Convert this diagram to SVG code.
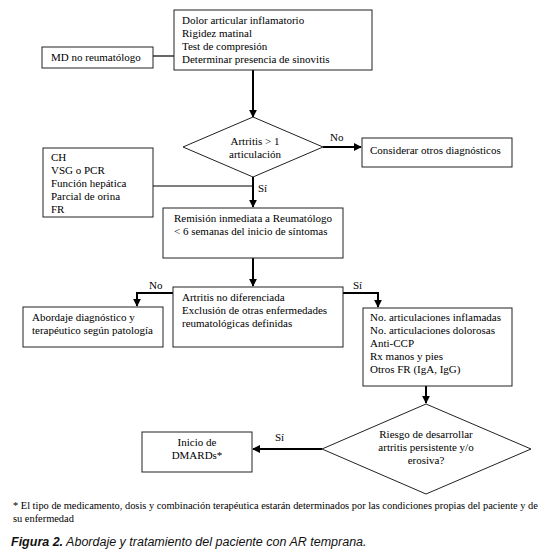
<svg xmlns="http://www.w3.org/2000/svg" width="558" height="556" viewBox="0 0 558 556">
<defs>
<marker id="ah" viewBox="0 0 10 10" refX="9" refY="5" markerWidth="4" markerHeight="4" orient="auto" markerUnits="strokeWidth">
<path d="M0,0 L10,5 L0,10 z" fill="#000"/>
</marker>
<style>
.box{fill:#fff;stroke:#222;stroke-width:1}
.t{font-family:"Liberation Serif","Times New Roman",serif;font-size:11px;fill:#000}
.c{text-anchor:middle}
.ln{fill:none;stroke:#000;stroke-width:1.2}
.ar{fill:none;stroke:#000;stroke-width:2;marker-end:url(#ah)}
.fn{font-family:"Liberation Serif","Times New Roman",serif;font-size:10.4px;fill:#000}
.cap{font-family:"Liberation Sans",Arial,sans-serif;font-size:12.5px;font-style:italic;fill:#111}
</style>
</defs>
<rect width="558" height="556" fill="#fff"/>
<g id="connectors">
<line class="ln" x1="153" y1="56" x2="174" y2="56" stroke="#666"/>
<line class="ar" x1="253" y1="70" x2="253" y2="117"/>
<line class="ar" x1="323" y1="147" x2="361" y2="147"/>
<line class="ln" x1="153" y1="186" x2="253" y2="186"/>
<line class="ar" x1="253" y1="177" x2="253" y2="207"/>
<line class="ar" x1="253" y1="258" x2="253" y2="286"/>
<polyline class="ar" points="173,293 137,293 137,306"/>
<polyline class="ar" points="343,293 378,293 378,307"/>
<line class="ar" x1="426" y1="386" x2="426" y2="403"/>
<line class="ar" x1="322" y1="449" x2="253" y2="449"/>
<text class="t" x="330" y="141">No</text>
<text class="t" x="258" y="192">Sí</text>
<text class="t" x="149" y="289">No</text>
<text class="t" x="353" y="289">Sí</text>
<text class="t" x="275" y="441">Sí</text>
</g>
<g id="n-sintomas">
<rect class="box" x="174" y="10" width="198" height="60"/>
<text class="t" x="182" y="24">Dolor articular inflamatorio</text>
<text class="t" x="182" y="37">Rigidez matinal</text>
<text class="t" x="182" y="50">Test de compresión</text>
<text class="t" x="182" y="63">Determinar presencia de sinovitis</text>
</g>
<g id="n-md">
<rect class="box" x="42" y="47" width="111" height="21"/>
<text class="t" x="51" y="61">MD no reumatólogo</text>
</g>
<g id="n-artritis1">
<polygon class="box" points="253,117 323,147 253,177 183,147"/>
<text class="t c" x="255" y="145">Artritis &gt; 1</text>
<text class="t c" x="255" y="158">articulación</text>
</g>
<g id="n-considerar">
<rect class="box" x="362" y="138" width="150" height="29"/>
<text class="t" x="370" y="154">Considerar otros diagnósticos</text>
</g>
<g id="n-lab">
<rect class="box" x="43" y="148" width="110" height="69"/>
<text class="t" x="51" y="161">CH</text>
<text class="t" x="51" y="174">VSG o PCR</text>
<text class="t" x="51" y="187">Función hepática</text>
<text class="t" x="51" y="200">Parcial de orina</text>
<text class="t" x="51" y="213">FR</text>
</g>
<g id="n-remision">
<rect class="box" x="163" y="208" width="180" height="50"/>
<text class="t" x="174" y="222">Remisión inmediata a Reumatólogo</text>
<text class="t" x="174" y="235">&lt; 6 semanas del inicio de síntomas</text>
</g>
<g id="n-nodif">
<rect class="box" x="173" y="287" width="170" height="60"/>
<text class="t" x="182" y="301">Artritis no diferenciada</text>
<text class="t" x="182" y="314">Exclusión de otras enfermedades</text>
<text class="t" x="182" y="327">reumatológicas definidas</text>
</g>
<g id="n-abordaje">
<rect class="box" x="23" y="307" width="140" height="40"/>
<text class="t" x="32" y="321">Abordaje diagnóstico y</text>
<text class="t" x="32" y="334">terapéutico según patología</text>
</g>
<g id="n-eval">
<rect class="box" x="363" y="308" width="149" height="78"/>
<text class="t" x="370" y="321">No. articulaciones inflamadas</text>
<text class="t" x="370" y="334">No. articulaciones dolorosas</text>
<text class="t" x="370" y="347">Anti-CCP</text>
<text class="t" x="370" y="360">Rx manos y pies</text>
<text class="t" x="370" y="373">Otros FR (IgA, IgG)</text>
</g>
<g id="n-riesgo">
<polygon class="box" points="426,404 531,449 426,494 322,449"/>
<text class="t c" x="426" y="438">Riesgo de desarrollar</text>
<text class="t c" x="426" y="451">artritis persistente y/o</text>
<text class="t c" x="426" y="464">erosiva?</text>
</g>
<g id="n-dmards">
<rect class="box" x="142" y="432" width="110" height="40"/>
<text class="t c" x="197" y="446">Inicio de</text>
<text class="t c" x="197" y="459">DMARDs*</text>
</g>
<text class="fn" x="13" y="509">* El tipo de medicamento, dosis y combinación terapéutica estarán determinados por las condiciones propias del paciente y de</text>
<text class="fn" x="13" y="522">su enfermedad</text>
<text class="cap" x="11" y="546"><tspan font-weight="bold">Figura 2.</tspan> Abordaje y tratamiento del paciente con AR temprana.</text>
</svg>
